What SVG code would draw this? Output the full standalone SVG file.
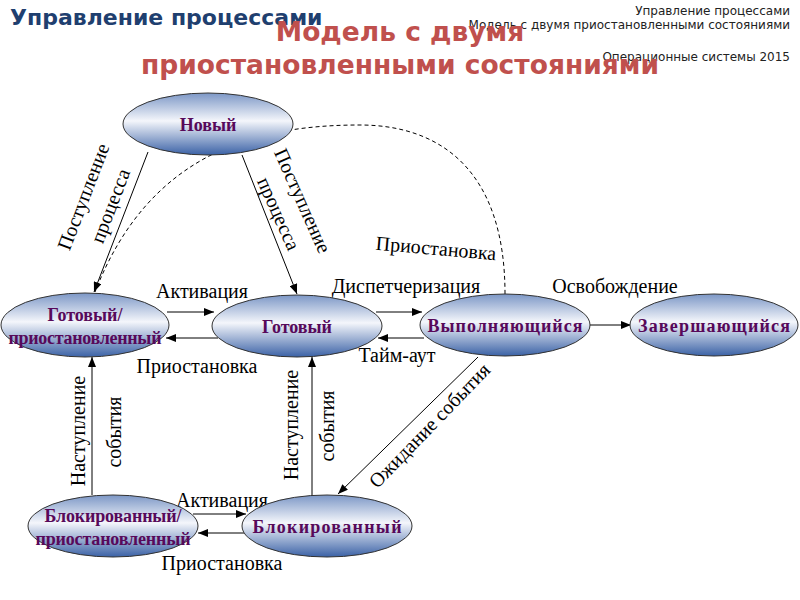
<svg xmlns="http://www.w3.org/2000/svg" width="800" height="600" viewBox="0 0 800 600">
<defs>
<linearGradient id="g" x1="0" y1="0" x2="0" y2="1">
<stop offset="0" stop-color="#7c97c6"/>
<stop offset="0.45" stop-color="#f4f6fb"/>
<stop offset="1" stop-color="#3b62a6"/>
</linearGradient>
<marker id="a" markerUnits="userSpaceOnUse" markerWidth="10" markerHeight="8" refX="10" refY="4" orient="auto">
<path d="M0,0 L10,4 L0,8 z" fill="#000"/>
</marker>
<style>
.n{fill:url(#g);stroke:#333;stroke-width:1}
.nt{font-family:"Liberation Serif",serif;font-weight:bold;font-size:18px;fill:#57095a;text-anchor:middle}
.c{stroke:#000;stroke-width:1;fill:none;marker-end:url(#a)}
.d{stroke:#000;stroke-width:1;fill:none;stroke-dasharray:4,3}
.l{font-family:"Liberation Serif",serif;font-size:20px;fill:#000;text-anchor:middle}
.h{font-family:"DejaVu Sans",sans-serif;font-weight:bold}
.s{font-family:"DejaVu Sans",sans-serif;font-size:12px;fill:#222;text-anchor:end}
</style>
</defs>
<rect width="800" height="600" fill="#fff"/>
<g id="header">
<text class="s" x="790" y="15">Управление процессами</text>
<text class="s" x="790" y="29">Модель с двумя приостановленными состояниями</text>
<text class="s" x="790" y="61">Операционные системы 2015</text>
<text class="h" x="10" y="25" font-size="22" fill="#1f3f6f">Управление процессами</text>
<text class="h" x="400" y="41" font-size="26.5" fill="#c0504d" text-anchor="middle">Модель с двумя</text>
<text class="h" x="400" y="74" font-size="26.5" fill="#c0504d" text-anchor="middle">приостановленными состояниями</text>
</g>
<g id="connectors">
<path class="d" d="M505,294 C505,170 440,125 360,125 C260,125 150,150 95,292"/>
<line class="c" x1="148" y1="152" x2="94" y2="292"/>
<line class="c" x1="242" y1="155" x2="297" y2="294"/>
<line class="c" x1="167" y1="312" x2="214" y2="312"/>
<line class="c" x1="218" y1="338" x2="166" y2="338"/>
<line class="c" x1="376" y1="312" x2="422" y2="312"/>
<line class="c" x1="424" y1="338" x2="378" y2="338"/>
<line class="c" x1="590" y1="325" x2="631" y2="325"/>
<line class="c" x1="92" y1="495" x2="92" y2="357"/>
<line class="c" x1="312" y1="496" x2="312" y2="357"/>
<line class="c" x1="478" y1="357" x2="338" y2="494"/>
<line class="c" x1="193" y1="514" x2="246" y2="514"/>
<line class="c" x1="244" y1="533" x2="198" y2="533"/>
</g>
<g id="labels">
<text class="l" transform="translate(84,197) rotate(-69)" y="6">Поступление</text>
<text class="l" transform="translate(111,206) rotate(-69)" y="6">процесса</text>
<text class="l" transform="translate(302,201) rotate(66)" y="6">Поступление</text>
<text class="l" transform="translate(278,214) rotate(66)" y="6">процесса</text>
<text class="l" transform="translate(436,249) rotate(5)" y="6">Приостановка</text>
<text class="l" x="202" y="298">Активация</text>
<text class="l" x="406" y="293">Диспетчеризация</text>
<text class="l" x="615" y="293">Освобождение</text>
<text class="l" x="197" y="373">Приостановка</text>
<text class="l" x="397" y="362">Тайм-аут</text>
<text class="l" transform="translate(79,431) rotate(-90)" y="6">Наступление</text>
<text class="l" transform="translate(115,432) rotate(-90)" y="6">события</text>
<text class="l" transform="translate(292,425) rotate(-90)" y="6">Наступление</text>
<text class="l" transform="translate(328,426) rotate(-90)" y="6">события</text>
<text class="l" transform="translate(430,426) rotate(-46)" y="6">Ожидание события</text>
<text class="l" x="222" y="507">Активация</text>
<text class="l" x="222" y="570">Приостановка</text>
</g>
<g id="node-new"><ellipse class="n" cx="208" cy="124" rx="85" ry="31"/><text class="nt" x="208" y="131">Новый</text></g>
<g id="node-ready-susp"><ellipse class="n" cx="85" cy="325" rx="84" ry="32"/><text class="nt" x="85" y="321">Готовый/</text><text class="nt" x="85" y="344" textLength="153" lengthAdjust="spacing">приостановленный</text></g>
<g id="node-ready"><ellipse class="n" cx="297" cy="326" rx="85" ry="31"/><text class="nt" x="297" y="333">Готовый</text></g>
<g id="node-running"><ellipse class="n" cx="505" cy="325" rx="85" ry="31"/><text class="nt" x="505" y="332" textLength="155" lengthAdjust="spacing">Выполняющийся</text></g>
<g id="node-exit"><ellipse class="n" cx="714" cy="325" rx="84" ry="31"/><text class="nt" x="714" y="332" textLength="152" lengthAdjust="spacing">Завершающийся</text></g>
<g id="node-blocked-susp"><ellipse class="n" cx="113" cy="526" rx="85" ry="31"/><text class="nt" x="113" y="522" textLength="137" lengthAdjust="spacing">Блокированный/</text><text class="nt" x="113" y="545" textLength="155" lengthAdjust="spacing">приостановленный</text></g>
<g id="node-blocked"><ellipse class="n" cx="327" cy="526" rx="85" ry="31"/><text class="nt" x="327" y="533" textLength="149" lengthAdjust="spacing">Блокированный</text></g>
</svg>
